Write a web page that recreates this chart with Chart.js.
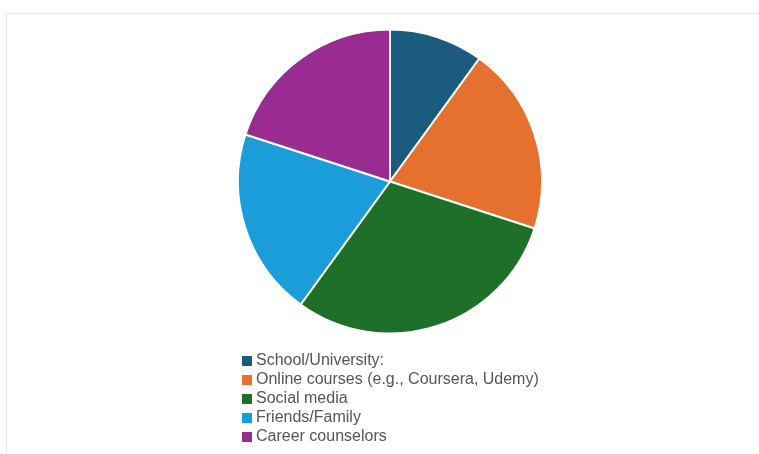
<!DOCTYPE html>
<html>
<head>
<meta charset="utf-8">
<script src="https://cdn.jsdelivr.net/npm/chart.js@4"></script>
<style>
  html, body { margin: 0; padding: 0; background: #fff; }
  #wrap { position: relative; width: 759px; height: 454px; overflow: hidden; }
  #frame { position: absolute; left: 6px; top: 13px; right: 0; bottom: 0;
           border-top: 1px solid #e6e6e6; border-left: 1px solid #e6e6e6; }
  #c { position: absolute; left: 0; top: 0; }
  #legend { position: absolute; left: 242px; top: 350px; margin: 0; padding: 0; list-style: none;
            font-family: "Liberation Sans", Arial, sans-serif; font-size: 16px; color: #555; }
  #legend li { height: 19px; line-height: 19px; white-space: nowrap; }
  #legend span.box { display: inline-block; width: 10px; height: 10px; margin-right: 4px; vertical-align: -0.5px; }
</style>
</head>
<body>
<div id="wrap">
  <div id="frame"></div>
  <canvas id="c" width="759" height="454"></canvas>
  <ul id="legend"></ul>
</div>
<script>
const categories = [
  "School/University:",
  "Online courses (e.g., Coursera, Udemy)",
  "Social media",
  "Friends/Family",
  "Career counselors"
];
const shares = [10, 20, 30, 20, 20];
const colors = ["#1a5b7e", "#e6712f", "#1e6f28", "#1a9dd8", "#9a2b91"];

const chart = new Chart(document.getElementById("c"), {
  type: "pie",
  data: {
    labels: categories,
    datasets: [{
      data: shares,
      backgroundColor: colors,
      borderColor: "#ffffff",
      borderWidth: 2
    }]
  },
  options: {
    responsive: false,
    animation: false,
    layout: { padding: { top: 28, bottom: 119, left: 237, right: 216 } },
    plugins: {
      legend: { display: false },
      tooltip: { enabled: false }
    }
  }
});

// Vertical legend listing each slice below the pie
const legend = document.getElementById("legend");
chart.data.labels.forEach((label, i) => {
  const li = document.createElement("li");
  const box = document.createElement("span");
  box.className = "box";
  box.style.background = chart.data.datasets[0].backgroundColor[i];
  li.appendChild(box);
  li.appendChild(document.createTextNode(label));
  legend.appendChild(li);
});
</script>
</body>
</html>
